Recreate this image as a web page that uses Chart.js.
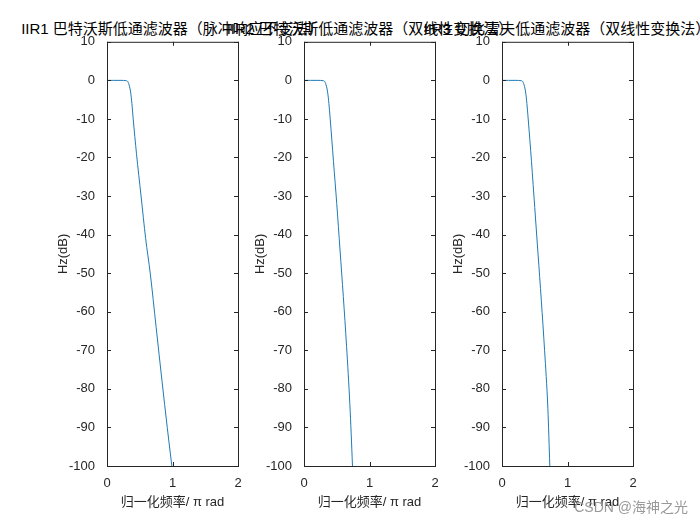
<!DOCTYPE html>
<html><head><meta charset="utf-8">
<script src="https://cdn.jsdelivr.net/npm/chart.js@4"></script>
<style>
body{margin:0;background:#fff;font-family:"Liberation Sans","Noto Sans CJK SC",sans-serif;}
.c{position:absolute;top:30px;width:210px;height:480px;}
.t{position:absolute;top:17px;font-size:15px;white-space:nowrap;transform:translateX(-50%);color:#000;}
#wm{position:absolute;right:12px;top:496px;font-size:14px;color:#999;}
</style></head><body>
<div class="t" style="left:172px">IIR1 巴特沃斯低通滤波器（脉冲响应不变法）</div>
<div class="t" style="left:370px">IIR2 巴特沃斯低通滤波器（双线性变换法）</div>
<div class="t" style="left:567px">IIR3 切比雪夫低通滤波器（双线性变换法）</div>
<canvas id="c1" class="c" style="left:40px"></canvas>
<canvas id="c2" class="c" style="left:237px"></canvas>
<canvas id="c3" class="c" style="left:435px"></canvas>
<div id="wm">CSDN @海神之光</div>
<script>
const xTicks = [0, 1, 2];
const yTicks = [10, 0, -10, -20, -30, -40, -50, -60, -70, -80, -90, -100];
const freq1 = [0, 0.1, 0.2, 0.3, 0.33, 0.36, 0.38, 0.40, 0.45, 0.52, 0.59, 0.66, 0.75, 0.84, 0.92, 0.99, 1.02];
const mag1 = [0, 0, 0, -0.1, -0.8, -3, -6, -10, -19, -30, -41, -50, -64, -78, -90, -100, -104];
const freq2 = [0, 0.1, 0.2, 0.3, 0.33, 0.36, 0.38, 0.40, 0.45, 0.50, 0.55, 0.60, 0.65, 0.70, 0.74, 0.76];
const mag2 = [0, 0, 0, -0.1, -0.8, -3, -6, -10, -21, -32, -44, -56, -69, -84, -100, -110];
const freq3 = [0, 0.1, 0.2, 0.3, 0.33, 0.36, 0.38, 0.40, 0.45, 0.50, 0.55, 0.60, 0.65, 0.70, 0.73, 0.75];
const mag3 = [0, 0, 0, -0.1, -0.8, -3, -6, -10, -21, -33, -45, -57, -70, -85, -100, -110];

const font = {family: '"Liberation Sans","Noto Sans CJK SC",sans-serif', size: 13};
const boxPlugin = {
    id: 'box',
    afterDraw(chart) {
        const {ctx, chartArea: a, scales} = chart;
        ctx.save();
        ctx.strokeStyle = '#262626';
        ctx.lineWidth = 1;
        ctx.strokeRect(a.left + 0.5, a.top + 0.5, a.width, a.height);
        ctx.beginPath();
        xTicks.forEach(v => {
            const x = Math.round(scales.x.getPixelForValue(v)) + 0.5;
            ctx.moveTo(x, a.bottom); ctx.lineTo(x, a.bottom - 4);
            ctx.moveTo(x, a.top); ctx.lineTo(x, a.top + 4);
        });
        yTicks.forEach(v => {
            const y = Math.round(scales.y.getPixelForValue(v)) + 0.5;
            ctx.moveTo(a.left, y); ctx.lineTo(a.left + 4, y);
            ctx.moveTo(a.right, y); ctx.lineTo(a.right - 4, y);
        });
        ctx.stroke();
        ctx.restore();
    }
};

function makeChart(id, xs, ys) {
    new Chart(document.getElementById(id), {
        type: 'line',
        data: {datasets: [{
            data: xs.map((x, i) => ({x: x, y: ys[i]})),
            borderColor: '#1f7ab5', borderWidth: 1, pointRadius: 0, cubicInterpolationMode: 'monotone'
        }]},
        options: {
            responsive: false, animation: false,
            layout: {padding: {top: 9, right: 12, left: 16}},
            plugins: {legend: {display: false}, tooltip: {enabled: false}},
            scales: {
                x: {type: 'linear', min: 0, max: 2,
                    afterBuildTicks: s => { s.ticks = xTicks.map(v => ({value: v})); },
                    afterFit: s => { s.height = 44; },
                    grid: {display: false}, border: {display: false},
                    ticks: {color: '#262626', font: font, padding: 2},
                    title: {display: true, text: '归一化频率/ π rad', color: '#262626', font: font, padding: 0}},
                y: {min: -100, max: 10,
                    afterBuildTicks: s => { s.ticks = yTicks.map(v => ({value: v})); },
                    afterFit: s => { s.width = 51; },
                    grid: {display: false}, border: {display: false},
                    ticks: {color: '#262626', font: font, padding: 4},
                    title: {display: true, text: 'Hz(dB)', color: '#262626', font: font, padding: 0}}
            }
        },
        plugins: [boxPlugin]
    });
}
document.querySelectorAll('canvas').forEach(c => { c.width = 210; c.height = 480; });
makeChart('c1', freq1, mag1);
makeChart('c2', freq2, mag2);
makeChart('c3', freq3, mag3);
</script>
</body></html>
